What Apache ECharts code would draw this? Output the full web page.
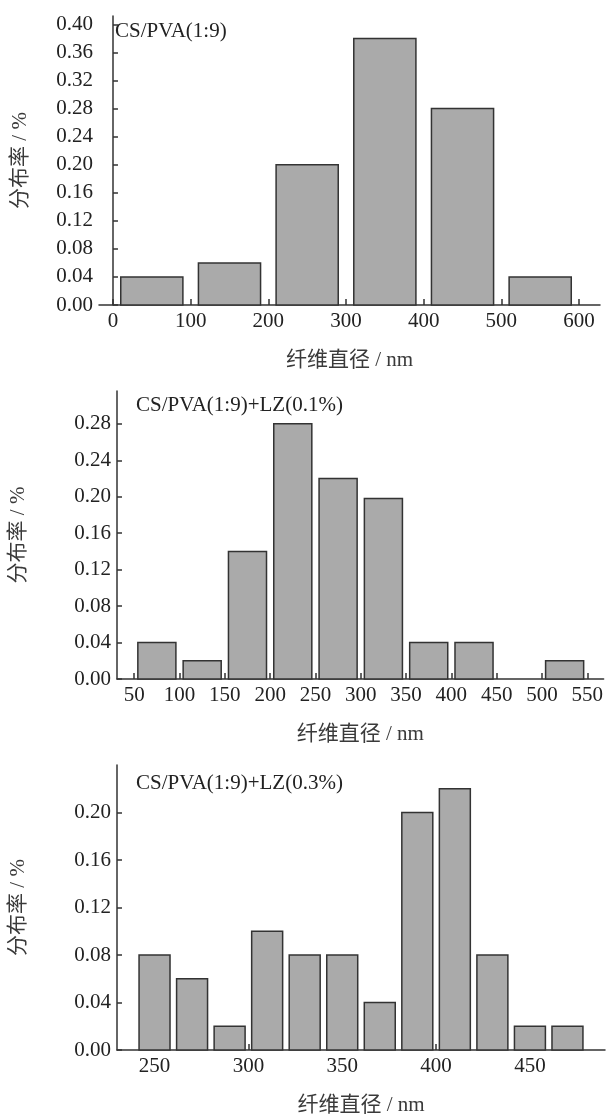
<!DOCTYPE html>
<html>
<head>
<meta charset="utf-8">
<script src="https://cdn.jsdelivr.net/npm/echarts@6/dist/echarts.min.js"></script>
<style>
  html, body { margin: 0; padding: 0; background: #fff; }
  #chart { width: 606px; height: 1117px; }
</style>
</head>
<body>
<div id="chart"></div>
<script>
// 三个分布图的数据 (纤维直径分组中心 / 分布率)
const labels = ['CS/PVA(1:9)', 'CS/PVA(1:9)+LZ(0.1%)', 'CS/PVA(1:9)+LZ(0.3%)']

const centers1 = [50, 150, 250, 350, 450, 550]
const values1 = [0.04, 0.06, 0.20, 0.38, 0.28, 0.04]
const xTicks1 = [0, 100, 200, 300, 400, 500, 600]
const yTicks1 = [0, 0.04, 0.08, 0.12, 0.16, 0.20, 0.24, 0.28, 0.32, 0.36, 0.40]

const centers2 = [75, 125, 175, 225, 275, 325, 375, 425, 475, 525]
const values2 = [0.04, 0.02, 0.14, 0.28, 0.22, 0.198, 0.04, 0.04, 0, 0.02]
const xTicks2 = [50, 100, 150, 200, 250, 300, 350, 400, 450, 500, 550]
const yTicks2 = [0, 0.04, 0.08, 0.12, 0.16, 0.20, 0.24, 0.28]

const centers3 = [250, 270, 290, 310, 330, 350, 370, 390, 410, 430, 450, 470]
const values3 = [0.08, 0.06, 0.02, 0.10, 0.08, 0.08, 0.04, 0.20, 0.22, 0.08, 0.02, 0.02]
const xTicks3 = [250, 300, 350, 400, 450]
const yTicks3 = [0, 0.04, 0.08, 0.12, 0.16, 0.20]

const xName = '纤维直径 / nm'
const yName = '分布率 / %'

// 版式 (像素位置与坐标范围)
const panels = [
  { grid: { left: 99, right: 6, top: 16, bottom: 812 }, xMin: -18, xMax: 627, yMax: 0.412, barW: 80,
    centers: centers1, values: values1, xTicks: xTicks1, yTicks: yTicks1, yGap: 68, labelX: 115, labelY: 31 },
  { grid: { left: 116, right: 1, top: 391, bottom: 438 }, xMin: 31, xMax: 568, yMax: 0.316, barW: 42,
    centers: centers2, values: values2, xTicks: xTicks2, yTicks: yTicks2, yGap: 88, labelX: 136, labelY: 405 },
  { grid: { left: 116, right: 1, top: 765, bottom: 63 }, xMin: 230, xMax: 490, yMax: 0.24, barW: 16.5,
    centers: centers3, values: values3, xTicks: xTicks3, yTicks: yTicks3, yGap: 88, labelX: 136, labelY: 783 }
]

const textColor = '#222'
const fontSerif = '"Liberation Serif", "Noto Sans CJK SC", serif'
const lineStyle = { color: '#333', width: 1.5 }

const option = {
  animation: false,
  backgroundColor: '#fff',
  grid: panels.map(p => p.grid),
  xAxis: panels.map((p, i) => ({
    type: 'value',
    gridIndex: i,
    min: p.xMin,
    max: p.xMax,
    name: xName,
    nameLocation: 'middle',
    nameGap: 45,
    nameTextStyle: { color: '#3a3a3a', fontSize: 21, fontFamily: fontSerif },
    splitLine: { show: false },
    axisLine: { show: true, lineStyle: lineStyle },
    axisTick: { show: true, inside: true, length: 6, lineStyle: lineStyle, customValues: p.xTicks },
    axisLabel: { color: textColor, fontSize: 21, fontFamily: fontSerif, margin: 6, customValues: p.xTicks }
  })),
  yAxis: panels.map((p, i) => ({
    type: 'value',
    gridIndex: i,
    min: 0,
    max: p.yMax,
    name: yName,
    nameLocation: 'middle',
    nameGap: p.yGap,
    nameTextStyle: { color: '#3a3a3a', fontSize: 21, fontFamily: fontSerif },
    splitLine: { show: false },
    axisLine: { show: true, lineStyle: lineStyle },
    axisTick: { show: true, inside: true, length: 5, lineStyle: lineStyle, customValues: p.yTicks },
    axisLabel: {
      color: textColor, fontSize: 21, fontFamily: fontSerif, margin: 6, customValues: p.yTicks,
      formatter: v => v.toFixed(2)
    }
  })),
  graphic: panels.map((p, i) => ({
    type: 'text',
    x: p.labelX,
    y: p.labelY,
    style: { text: labels[i], font: '21px "Liberation Serif", serif', fill: textColor, verticalAlign: 'middle' }
  })),
  series: panels.map((p, i) => ({
    type: 'custom',
    xAxisIndex: i,
    yAxisIndex: i,
    encode: { x: 0, y: 1 },
    data: p.centers.map((c, k) => [c, p.values[k]]),
    renderItem: (params, api) => {
      const x = api.value(0)
      const y = api.value(1)
      if (!y) return null
      const a = api.coord([x - p.barW / 2, y])
      const b = api.coord([x + p.barW / 2, 0])
      return {
        type: 'rect',
        shape: { x: a[0], y: a[1], width: b[0] - a[0], height: b[1] - a[1] },
        style: { fill: '#aaaaaa', stroke: '#333', lineWidth: 1.5 }
      }
    }
  }))
}

const mychart = echarts.init(document.getElementById('chart'))
mychart.setOption(option)
</script>
</body>
</html>
